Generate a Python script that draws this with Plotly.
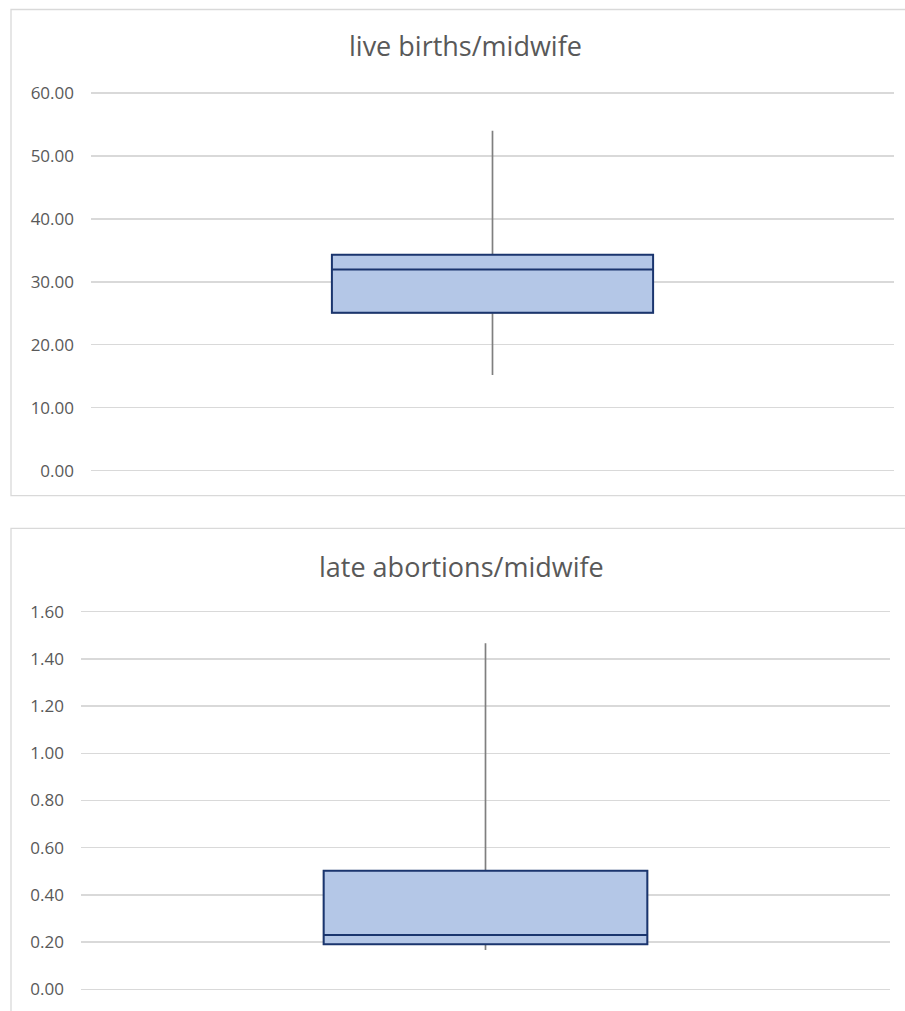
import plotly.graph_objects as go

W, H = 905, 1011

# ---- data ----
titles = ["live births/midwife", "late abortions/midwife"]
mins = [15.2, 0.167]
q1s = [25.1, 0.191]
medians = [31.95, 0.230]
q3s = [34.3, 0.502]
maxs = [54.0, 1.466]
y_max = [60, 1.6]
y_step = [10, 0.2]

# ---- layout helpers (pixel -> paper) ----
def px_x(x):
    return x / W

def px_y(y):
    return 1 - y / H

plot_px = [
    dict(x0=91, x1=894, y0=93, y1=470.7),
    dict(x0=81, x1=890, y0=611.7, y1=989.3),
]
title_px = [(465, 46), (461.5, 566)]
frame_px = [(11, 9.5, 930, 495.7), (11, 528.3, 930, 1040)]
PAD = 3  # px of extra room so edge gridlines are drawn

GRID = "#d9d9d9"
TEXT = "#595959"
NAVY = "#1a356e"
FILL = "#b4c7e7"
WHISK = "#7f7f7f"
FONT = "Open Sans"

fig = go.Figure()
layout = dict(
    template="none",
    width=W, height=H, autosize=False,
    margin=dict(l=0, r=0, t=0, b=0, pad=0),
    paper_bgcolor="white", plot_bgcolor="white",
    showlegend=False, boxmode="overlay",
    font=dict(family=FONT, color=TEXT),
    shapes=[], annotations=[],
)

for i in range(2):
    xa = "x" if i == 0 else "x2"
    ya = "y" if i == 0 else "y2"
    # whiskers (grey)
    fig.add_trace(go.Box(
        x=[0], q1=[q1s[i]], median=[medians[i]], q3=[q3s[i]],
        lowerfence=[mins[i]], upperfence=[maxs[i]],
        width=0.4, whiskerwidth=0, boxpoints=False,
        line=dict(color=WHISK, width=1.7), fillcolor="rgba(0,0,0,0)",
        xaxis=xa, yaxis=ya, hoverinfo="skip",
    ))
    # box (navy outline, light-blue fill)
    fig.add_trace(go.Box(
        x=[0], q1=[q1s[i]], median=[medians[i]], q3=[q3s[i]],
        lowerfence=[q1s[i]], upperfence=[q3s[i]],
        width=0.4, whiskerwidth=0, boxpoints=False,
        line=dict(color=NAVY, width=2), fillcolor=FILL,
        xaxis=xa, yaxis=ya, hoverinfo="skip",
    ))
    p = plot_px[i]
    upp = y_max[i] / (p["y1"] - p["y0"])  # units per px
    n = int(round(y_max[i] / y_step[i]))
    tickvals = [k * y_step[i] for k in range(n + 1)]
    layout["xaxis" if i == 0 else "xaxis2"] = dict(
        domain=[px_x(p["x0"]), px_x(p["x1"])], range=[-0.5, 0.5],
        showticklabels=False, showgrid=False, zeroline=False, showline=False,
        anchor=ya, fixedrange=True, automargin=False,
    )
    layout["yaxis" if i == 0 else "yaxis2"] = dict(
        domain=[px_y(p["y1"] + PAD), px_y(p["y0"] - PAD)],
        range=[-PAD * upp, y_max[i] + PAD * upp],
        tickvals=tickvals, tickformat=".2f",
        showgrid=True, gridcolor=GRID, gridwidth=1.3,
        zeroline=False, showline=False, ticks="",
        tickfont=dict(family=FONT, size=17, color=TEXT),
        ticklabelstandoff=16,
        anchor=xa, fixedrange=True, automargin=False,
    )
    fx0, fy0, fx1, fy1 = frame_px[i]
    layout["shapes"].append(dict(
        type="rect", xref="paper", yref="paper",
        x0=px_x(fx0), x1=px_x(fx1), y0=px_y(fy1), y1=px_y(fy0),
        line=dict(color=GRID, width=1.3), fillcolor="rgba(0,0,0,0)", layer="below",
    ))
    tx, ty = title_px[i]
    layout["annotations"].append(dict(
        text=titles[i], xref="paper", yref="paper",
        x=px_x(tx), y=px_y(ty), xanchor="center", yanchor="middle",
        showarrow=False, font=dict(family=FONT, size=27, color=TEXT),
    ))

fig.update_layout(**layout)
fig.write_html("out.html", config={"displayModeBar": False, "staticPlot": True},
               post_script="document.body.style.margin='0';document.body.style.overflow='hidden';")
